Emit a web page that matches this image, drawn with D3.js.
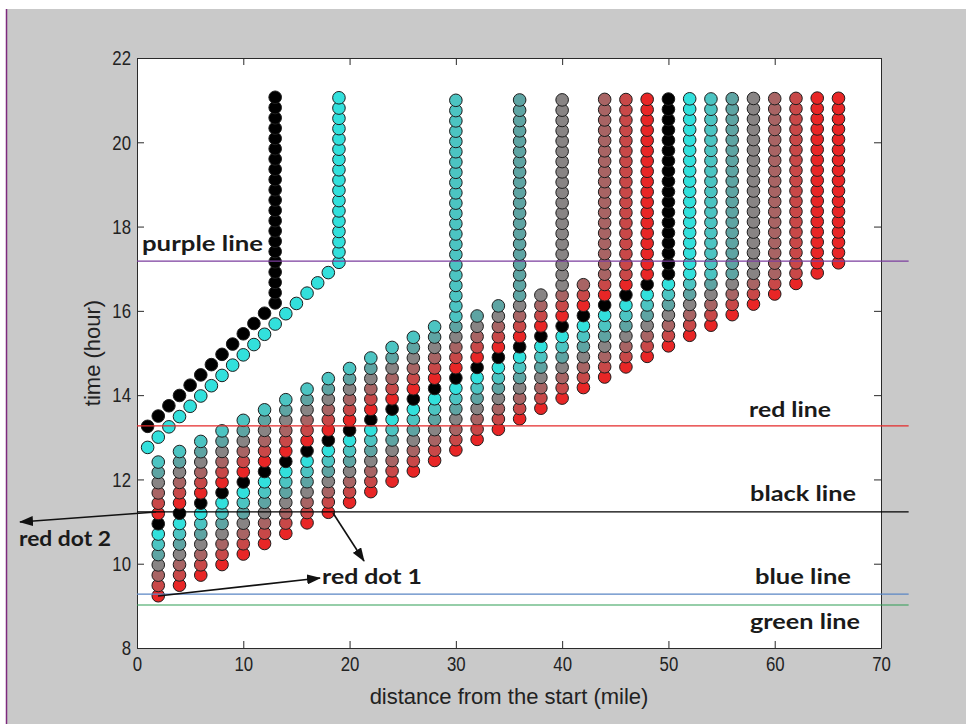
<!DOCTYPE html>
<html><head><meta charset="utf-8">
<script src="https://cdn.jsdelivr.net/npm/d3@7"></script>
<style>body{margin:0;background:#fff;} svg{display:block}</style>
</head><body>
<script>
// ---------- data ----------
const STEP = 0.244; // hours between successive dots
const xTicks = [0,10,20,30,40,50,60,70];
const yTicks = [8,10,12,14,16,18,20,22];

const columnMiles = [2,4,6,8,10,12,14,16,18,20,22,24,26,28,30,32,34,36,38,40,42,44,46,48,50,52,54,56,58,60,62,64,66];
const columnStart = [9.24,9.49,9.73,9.98,10.23,10.48,10.72,10.97,11.22,11.46,11.71,11.96,12.20,12.45,12.70,12.95,13.19,13.44,13.69,13.93,14.18,14.43,14.67,14.92,15.17,15.42,15.66,15.91,16.16,16.40,16.65,16.90,17.14];
// colour codes of each dot, from bottom to top
const columnColors = [
  "RrBGTtCKRrBGTt","RrBGTtCKRrBGTt","RrBGTtCKRrBGTt","RrBGTtCKRrBGTt","RrBGTtCKRrBGTt",
  "RrBGTtCKRrBGTt","RrBGTtCKRrBGTt","RrBGTtCKRrBGTt","RrBGTtCKRrBGTt","RrBGTtCKRrBGTt",
  "RrBGTtCKRrBGTt","RrBGTtCKRrBGTt","RrBGTtCKRrBGTt","RrBGTtCKRrBGTt",
  "RrBGTtCKRrBGTt"+"tttttttttt"+"tttttttttt"+"t",
  "RrBGTtCKRrBGT",
  "RrBGTtCKRrBGT",
  "RrBGTtCKRrBGT"+"TTTTTTTTTT"+"TTTTTTTTT",
  "RrBGTtCKRrBG",
  "RrBGTtCKRrBG"+"GGGGGGGGGG"+"GGGGGGGG",
  "RrBGTtCKRrB",
  "RrBGTtCKRrB"+"BBBBBBBBBB"+"BBBBBBB",
  "RrBGTtCKRr"+"rrrrrrrrrr"+"rrrrrrr",
  "RrBGTtCKR"+"RRRRRRRRRR"+"RRRRRRR",
  "RrBGTtCK"+"KKKKKKKKKK"+"KKKKKKK",
  "RrBGTtC"+"CCCCCCCCCC"+"CCCCCCC",
  "RrBGTt"+"tttttttttt"+"ttttttt",
  "RrBGT"+"TTTTTTTTTT"+"TTTTTTT",
  "RrBG"+"GGGGGGGGGG"+"GGGGGGG",
  "RrB"+"BBBBBBBBBB"+"BBBBBBB",
  "Rr"+"rrrrrrrrrr"+"rrrrrrr",
  "R"+"RRRRRRRRRR"+"RRRRRRR",
  "RRRRRRRRRR"+"RRRRRRR"
];

// upper group: black and cyan tracks
const blackTrackMiles = [1,2,3,4,5,6,7,8,9,10,11,12,13,13,13,13,13,13,13,13,13,13,13,13,13,13,13,13,13,13,13,13,13];
const blackTrackStart = 13.26;
const cyanTrackMiles = [1,2,3,4,5,6,7,8,9,10,11,12,13,14,15,16,17,18,19,19,19,19,19,19,19,19,19,19,19,19,19,19,19,19,19];
const cyanTrackStart = 12.76;

const palette = {K:"#000000", R:"#e82626", r:"#c84848", B:"#a86464", G:"#888484", T:"#5ea4a3", t:"#4cc4c2", C:"#32e0dc"};

const refLines = [
  {name:"purple line", hour:17.18, color:"#7b3c9e"},
  {name:"red line",    hour:13.27, color:"#e42a2a"},
  {name:"black line",  hour:11.23, color:"#000000"},
  {name:"blue line",   hour:9.28,  color:"#5a86c4"},
  {name:"green line",  hour:9.02,  color:"#2f9e55"}
];

// ---------- drawing ----------
const W = 966, H = 724;
const svg = d3.select("body").append("svg").attr("width", W).attr("height", H);
svg.append("rect").attr("width", W).attr("height", H).attr("fill", "#c9c9c9");
svg.append("rect").attr("width", W).attr("height", 9).attr("fill", "#ffffff");
svg.append("rect").attr("y", 9).attr("width", 6).attr("height", H).attr("fill", "#ffffff");
svg.append("line").attr("x1", 6.5).attr("x2", 6.5).attr("y1", 9).attr("y2", H).attr("stroke", "#7d2a7d").attr("stroke-width", 1.5);

const x = d3.scaleLinear().domain([0,70]).range([137,881]);
const y = d3.scaleLinear().domain([8,22]).range([648,58]);

svg.append("rect").attr("x", x(0)).attr("y", y(22)).attr("width", x(70)-x(0)).attr("height", y(8)-y(22)).attr("fill", "#fff");

const font = "'Liberation Sans',Arial,sans-serif";
const SX = 0.8;
const xAxis = svg.append("g").attr("transform", `translate(0,${y(8)})`)
  .call(d3.axisBottom(x).tickValues(xTicks).tickFormat(d3.format("d")).tickSizeInner(-7).tickSizeOuter(0).tickPadding(10));
const yAxis = svg.append("g").attr("transform", `translate(${x(0)},0)`)
  .call(d3.axisLeft(y).tickValues(yTicks).tickFormat(d3.format("d")).tickSizeInner(-7).tickSizeOuter(0).tickPadding(8));
const xTop = svg.append("g").attr("transform", `translate(0,${y(22)})`)
  .call(d3.axisTop(x).tickValues(xTicks).tickFormat("").tickSizeInner(-7).tickSizeOuter(0));
const yRight = svg.append("g").attr("transform", `translate(${x(70)},0)`)
  .call(d3.axisRight(y).tickValues(yTicks).tickFormat("").tickSizeInner(-7).tickSizeOuter(0));
[xAxis,yAxis,xTop,yRight].forEach(g => {
  g.select(".domain").attr("stroke", "#2a2a2a");
  g.selectAll(".tick line").attr("stroke", "#2a2a2a");
  g.selectAll(".tick text").attr("font-family", font).attr("font-size", 21).attr("fill", "#222")
    .attr("transform", `scale(${SX},1)`);
});
xAxis.selectAll(".tick text").attr("y", 8);
yAxis.selectAll(".tick text").attr("x", -6/SX);

// dots
const dots = [];
columnMiles.forEach((m, c) => {
  const codes = columnColors[c];
  for (let i = 0; i < codes.length; i++) dots.push({mile:m, hour:columnStart[c] + i*STEP, code:codes[i]});
});
blackTrackMiles.forEach((m, i) => dots.push({mile:m, hour:blackTrackStart + i*STEP, code:"K"}));
cyanTrackMiles.forEach((m, i) => dots.push({mile:m, hour:cyanTrackStart + i*STEP, code:"C"}));

svg.append("g").selectAll("circle").data(dots).join("circle")
  .attr("cx", d => x(d.mile)).attr("cy", d => y(d.hour)).attr("r", 6.3)
  .attr("fill", d => palette[d.code]).attr("stroke", "#1e1e1e").attr("stroke-width", 1);

// reference lines
svg.append("g").selectAll("line").data(refLines).join("line")
  .attr("x1", x(0)).attr("x2", x(72.6))
  .attr("y1", d => y(d.hour)).attr("y2", d => y(d.hour))
  .attr("stroke", d => d.color).attr("stroke-width", 1.2);

const noteFont = "Lato, 'Open Sans', sans-serif";
const notes = [
  {text:"purple line", px:142, py:251, w:121},
  {text:"red line", px:749, py:417, w:82},
  {text:"black line", px:750, py:501, w:106},
  {text:"blue line", px:755, py:584, w:96},
  {text:"green line", px:750, py:629, w:110},
  {text:"red dot 2", px:19, py:546, w:92},
  {text:"red dot 1", px:322, py:584, w:100}
];
svg.append("g").selectAll("text").data(notes).join("text")
  .attr("x", d => d.px).attr("y", d => d.py).text(d => d.text)
  .attr("textLength", d => d.w).attr("lengthAdjust", "spacingAndGlyphs")
  .attr("font-family", noteFont).attr("font-weight", "bold").attr("font-size", 21).attr("fill", "#1a1a1a");

// arrows
const defs = svg.append("defs");
defs.append("marker").attr("id", "ah").attr("viewBox", "0 0 14 10").attr("refX", 13).attr("refY", 5)
  .attr("markerWidth", 14).attr("markerHeight", 10).attr("markerUnits", "userSpaceOnUse").attr("orient", "auto")
  .append("path").attr("d", "M0,0 L14,5 L0,10 z").attr("fill", "#111");
const arrows = [
  {x1:158, y1:596, x2:320, y2:578},
  {x1:333, y1:513, x2:364, y2:561},
  {x1:156, y1:512, x2:20, y2:522}
];
svg.append("g").selectAll("line").data(arrows).join("line")
  .attr("x1", d => d.x1).attr("y1", d => d.y1).attr("x2", d => d.x2).attr("y2", d => d.y2)
  .attr("stroke", "#111").attr("stroke-width", 1.6).attr("marker-end", "url(#ah)");

// axis titles
svg.append("text").attr("transform", `translate(${(x(0)+x(70))/2},704)`).attr("text-anchor", "middle")
  .attr("font-family", font).attr("font-size", 22).attr("fill", "#222").text("distance from the start (mile)");
svg.append("text").attr("transform", `translate(100,${(y(8)+y(22))/2}) rotate(-90)`).attr("text-anchor", "middle")
  .attr("font-family", font).attr("font-size", 22).attr("fill", "#222").text("time (hour)");
</script>
</body></html>
